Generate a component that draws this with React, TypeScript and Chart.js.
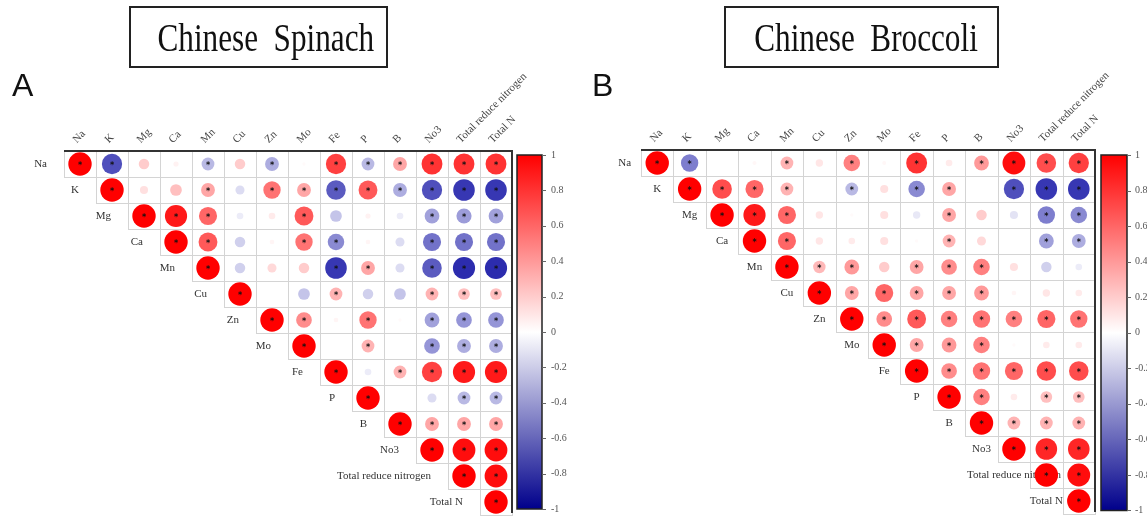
import React, { useEffect, useRef } from 'react';
import { Chart, registerables } from 'chart.js';

Chart.register(...registerables);

// ---------- data ----------
const variables = ['Na', 'K', 'Mg', 'Ca', 'Mn', 'Cu', 'Zn', 'Mo', 'Fe', 'P', 'B', 'No3', 'Total reduce nitrogen', 'Total N'];

// upper triangle, each row starts at the diagonal
const spinachCorr: number[][] = [
  [1, -0.75, 0.2, 0.05, -0.3, 0.2, -0.35, 0.02, 0.75, -0.3, 0.35, 0.8, 0.8, 0.8],
  [1, 0.12, 0.25, 0.35, -0.15, 0.55, 0.35, -0.7, 0.65, -0.35, -0.75, -0.85, -0.85],
  [1, 0.9, 0.6, -0.08, 0.08, 0.65, -0.25, 0.05, -0.08, -0.4, -0.42, -0.4],
  [1, 0.65, -0.2, 0.04, 0.55, -0.5, 0.04, -0.15, -0.6, -0.6, -0.6],
  [1, -0.2, 0.15, 0.2, -0.85, 0.35, -0.15, -0.7, -0.9, -0.9],
  [1, 0, -0.25, 0.3, -0.2, -0.25, 0.3, 0.25, 0.25],
  [1, 0.45, 0.04, 0.55, 0.02, -0.4, -0.45, -0.45],
  [1, 0, 0.3, 0, -0.45, -0.35, -0.35],
  [1, -0.08, 0.3, 0.75, 0.9, 0.9],
  [1, 0, -0.15, -0.3, -0.3],
  [1, 0.35, 0.35, 0.35],
  [1, 0.95, 0.95],
  [1, 0.95],
  [1],
];
const spinachSig: number[][] = [
  [1, 1, 0, 0, 1, 0, 1, 0, 1, 1, 1, 1, 1, 1],
  [1, 0, 0, 1, 0, 1, 1, 1, 1, 1, 1, 1, 1],
  [1, 1, 1, 0, 0, 1, 0, 0, 0, 1, 1, 1],
  [1, 1, 0, 0, 1, 1, 0, 0, 1, 1, 1],
  [1, 0, 0, 0, 1, 1, 0, 1, 1, 1],
  [1, 0, 0, 1, 0, 0, 1, 1, 1],
  [1, 1, 0, 1, 0, 1, 1, 1],
  [1, 0, 1, 0, 1, 1, 1],
  [1, 0, 1, 1, 1, 1],
  [1, 0, 0, 1, 1],
  [1, 1, 1, 1],
  [1, 1, 1],
  [1, 1],
  [1],
];

const broccoliCorr: number[][] = [
  [1, -0.55, 0, 0.03, 0.3, 0.1, 0.5, 0.03, 0.8, 0.08, 0.4, 0.95, 0.7, 0.75],
  [1, 0.7, 0.6, 0.3, 0, -0.3, 0.12, -0.5, 0.35, 0, -0.75, -0.85, -0.85],
  [1, 0.9, 0.6, 0.1, 0.02, 0.12, -0.1, 0.35, 0.2, -0.12, -0.55, -0.5],
  [1, 0.6, 0.1, 0.08, 0.12, 0.02, 0.3, 0.15, 0, -0.4, -0.35],
  [1, 0.28, 0.4, 0.2, 0.35, 0.45, 0.5, 0.12, -0.2, -0.08],
  [1, 0.35, 0.6, 0.35, 0.35, 0.4, 0.04, 0.1, 0.08],
  [1, 0.45, 0.65, 0.5, 0.55, 0.5, 0.6, 0.55],
  [1, 0.35, 0.4, 0.5, 0.02, 0.08, 0.08],
  [1, 0.45, 0.55, 0.6, 0.7, 0.7],
  [1, 0.5, 0.08, 0.25, 0.25],
  [1, 0.3, 0.3, 0.3],
  [1, 0.85, 0.85],
  [1, 0.95],
  [1],
];
const broccoliSig: number[][] = [
  [1, 1, 0, 0, 1, 0, 1, 0, 1, 0, 1, 1, 1, 1],
  [1, 1, 1, 1, 0, 1, 0, 1, 1, 0, 1, 1, 1],
  [1, 1, 1, 0, 0, 0, 0, 1, 0, 0, 1, 1],
  [1, 1, 0, 0, 0, 0, 1, 0, 0, 1, 1],
  [1, 1, 1, 0, 1, 1, 1, 0, 0, 0],
  [1, 1, 1, 1, 1, 1, 0, 0, 0],
  [1, 1, 1, 1, 1, 1, 1, 1],
  [1, 1, 1, 1, 0, 0, 0],
  [1, 1, 1, 1, 1, 1],
  [1, 1, 0, 1, 1],
  [1, 1, 1, 1],
  [1, 1, 1],
  [1, 1],
  [1],
];

const colorbarTicks = [1, 0.8, 0.6, 0.4, 0.2, 0, -0.2, -0.4, -0.6, -0.8, -1];
const colorbarLabels = ['1', '0.8', '0.6', '0.4', '0.2', '0', '-0.2', '-0.4', '-0.6', '-0.8', '-1'];

// ---------- helpers ----------
function mapColor(v: number, navy: number[]): string {
  const t = Math.min(1, Math.abs(v));
  if (v >= 0) {
    const g = Math.round(255 * (1 - t));
    return `rgb(255,${g},${g})`;
  }
  const r = Math.round(255 + (navy[0] - 255) * t);
  const b = Math.round(255 + (navy[2] - 255) * t);
  return `rgb(${r},${r},${b})`;
}
const barColor = (v: number) => mapColor(v, [0, 0, 139]);
const dotColor = (v: number) => mapColor(v, [20, 20, 165]);

type PanelCfg = {
  width: number;
  left: number;
  top: number;
  bottomPad: number;
  cbWidth: number;
  cbMin: number;
  cbMax: number;
  cbLabelPad: number;
  barOffset: number;
  barWidth: number;
  labelMode: 'right' | 'center';
};

const panelA: PanelCfg = {
  width: 573, left: 64, top: 151, bottomPad: 2, cbWidth: 61,
  cbMin: -1.034, cbMax: 1.0226, cbLabelPad: 39, barOffset: 5, barWidth: 25, labelMode: 'right',
};
const panelB: PanelCfg = {
  width: 574, left: 68, top: 150, bottomPad: 3, cbWidth: 52,
  cbMin: -1.0197, cbMax: 1.0281, cbLabelPad: 40, barOffset: 6, barWidth: 26, labelMode: 'center',
};

const corrPlugin = {
  id: 'corrDecor',
  beforeDatasetsDraw(chart: any, _args: any, opts: any) {
    const { ctx, chartArea } = chart;
    const xs = chart.scales.x;
    const ys = chart.scales.y;
    const n = variables.length;
    ctx.save();
    ctx.strokeStyle = '#d4d4d4';
    ctx.lineWidth = 1;
    for (let i = 0; i < n; i++) {
      for (let j = i; j < n; j++) {
        const x0 = Math.round(xs.getPixelForValue(j - 0.5)) + 0.5;
        const x1 = Math.round(xs.getPixelForValue(j + 0.5)) + 0.5;
        const y0 = Math.round(ys.getPixelForValue(i - 0.5)) + 0.5;
        const y1 = Math.round(ys.getPixelForValue(i + 0.5)) + 0.5;
        ctx.strokeRect(x0, y0, x1 - x0, y1 - y0);
      }
    }
    // row labels along the diagonal
    ctx.fillStyle = '#333';
    ctx.font = '11px "Liberation Serif"';
    ctx.textBaseline = 'middle';
    for (let i = 0; i < n; i++) {
      const y = ys.getPixelForValue(i);
      if (opts.labelMode === 'right') {
        ctx.textAlign = 'right';
        ctx.fillText(variables[i], xs.getPixelForValue(i - 0.5) - 17, y);
      } else {
        ctx.textAlign = 'center';
        ctx.fillText(variables[i], xs.getPixelForValue(i - 1), y);
      }
    }
    // dark frame top and right
    ctx.strokeStyle = '#333';
    ctx.lineWidth = 2;
    ctx.beginPath();
    ctx.moveTo(chartArea.left, chartArea.top);
    ctx.lineTo(chartArea.right, chartArea.top);
    ctx.lineTo(chartArea.right, chartArea.bottom - 2);
    ctx.stroke();
    ctx.restore();
  },
  afterDatasetsDraw(chart: any) {
    const { ctx } = chart;
    const meta = chart.getDatasetMeta(0);
    const data = chart.data.datasets[0].data;
    ctx.save();
    ctx.fillStyle = '#111';
    ctx.font = 'bold 8px "DejaVu Sans"';
    ctx.textAlign = 'center';
    ctx.textBaseline = 'middle';
    meta.data.forEach((el: any, k: number) => {
      if (data[k].sig) ctx.fillText('*', el.x, el.y + 1.5);
    });
    ctx.restore();
  },
  afterDraw(chart: any, _args: any, opts: any) {
    const { ctx } = chart;
    const cb = chart.scales.cb;
    const x0 = cb.left + opts.barOffset;
    const top = cb.getPixelForValue(1);
    const bottom = cb.getPixelForValue(-1);
    ctx.save();
    const g = ctx.createLinearGradient(0, top, 0, bottom);
    g.addColorStop(0, barColor(1));
    g.addColorStop(0.5, barColor(0));
    g.addColorStop(1, barColor(-1));
    ctx.fillStyle = g;
    ctx.fillRect(x0, top, opts.barWidth, bottom - top);
    ctx.strokeStyle = '#222';
    ctx.lineWidth = 1.5;
    ctx.strokeRect(x0, top, opts.barWidth, bottom - top);
    ctx.strokeStyle = '#666';
    ctx.lineWidth = 1;
    colorbarTicks.forEach((v) => {
      const y = Math.round(cb.getPixelForValue(v)) + 0.5;
      ctx.beginPath();
      ctx.moveTo(x0 + opts.barWidth, y);
      ctx.lineTo(x0 + opts.barWidth + 4, y);
      ctx.stroke();
    });
    ctx.restore();
  },
};

function makeChart(canvas: HTMLCanvasElement, corr: number[][], sig: number[][], cfg: PanelCfg) {
  const n = variables.length;
  const points: any[] = [];
  corr.forEach((row, i) => {
    row.forEach((v, k) => {
      points.push({ x: i + k, y: i, v, sig: sig[i][k] === 1 });
    });
  });
  return new Chart(canvas, {
    type: 'scatter',
    data: {
      datasets: [
        {
          data: points,
          pointBackgroundColor: (c: any) => dotColor(c.raw ? c.raw.v : 0),
          pointBorderWidth: 0,
          pointRadius: (c: any) => {
            const ys = c.chart.scales.y;
            const cell = Math.abs(ys.getPixelForValue(1) - ys.getPixelForValue(0));
            return 0.45 * cell * Math.sqrt(Math.abs(c.raw ? c.raw.v : 0));
          },
          pointHoverRadius: 0,
        } as any,
      ],
    },
    options: {
      animation: false,
      responsive: false,
      devicePixelRatio: 1,
      events: [],
      layout: { padding: { left: cfg.left, right: 0, top: 0, bottom: cfg.bottomPad } },
      plugins: {
        legend: { display: false },
        tooltip: { enabled: false },
        corrDecor: { labelMode: cfg.labelMode, barOffset: cfg.barOffset, barWidth: cfg.barWidth },
      } as any,
      scales: {
        x: {
          type: 'linear',
          position: 'top',
          min: -0.5,
          max: n - 0.5,
          afterBuildTicks: (s: any) => {
            s.ticks = variables.map((_, i) => ({ value: i }));
          },
          afterFit: (s: any) => {
            s.height = cfg.top;
          },
          grid: { display: false, drawTicks: false },
          border: { display: false },
          ticks: {
            autoSkip: false,
            minRotation: 45,
            maxRotation: 45,
            padding: 5,
            labelOffset: 4,
            color: '#444',
            font: { family: 'Liberation Serif', size: 11 },
            callback: (v: any) => variables[v as number],
          },
        },
        y: { type: 'linear', display: false, reverse: true, min: -0.5, max: n - 0.5 },
        cb: {
          type: 'linear',
          position: 'right',
          min: cfg.cbMin,
          max: cfg.cbMax,
          afterBuildTicks: (s: any) => {
            s.ticks = colorbarTicks.map((v) => ({ value: v }));
          },
          afterFit: (s: any) => {
            s.width = cfg.cbWidth;
            s.paddingTop = 0;
            s.paddingBottom = 0;
          },
          grid: { display: false, drawTicks: false },
          border: { display: false },
          ticks: {
            padding: cfg.cbLabelPad,
            color: '#555',
            font: { family: 'Liberation Serif', size: 10 },
            callback: (_v: any, i: number) => colorbarLabels[i],
          },
        },
      } as any,
    },
    plugins: [corrPlugin],
  } as any);
}

const titleTextStyle: React.CSSProperties = {
  position: 'absolute',
  top: 18,
  fontFamily: '"Liberation Serif", serif',
  fontSize: 40,
  lineHeight: '40px',
  textAlign: 'center',
  whiteSpace: 'pre',
  color: '#111',
  transform: 'scaleX(0.78)',
};

const letterStyle: React.CSSProperties = {
  position: 'absolute',
  top: 69,
  fontFamily: '"Liberation Sans", sans-serif',
  fontSize: 32,
  lineHeight: '32px',
  color: '#111',
};

export default function App() {
  const refA = useRef<HTMLCanvasElement>(null);
  const refB = useRef<HTMLCanvasElement>(null);
  useEffect(() => {
    const a = makeChart(refA.current!, spinachCorr, spinachSig, panelA);
    const b = makeChart(refB.current!, broccoliCorr, broccoliSig, panelB);
    return () => {
      a.destroy();
      b.destroy();
    };
  }, []);
  return (
    <div style={{ position: 'absolute', left: 0, top: 0, width: 1147, height: 517, background: '#fff', overflow: 'hidden' }}>
      <canvas ref={refA} width={panelA.width} height={517} style={{ position: 'absolute', left: 0, top: 0 }} />
      <canvas ref={refB} width={panelB.width} height={517} style={{ position: 'absolute', left: 573, top: 0 }} />
      <div style={{ position: 'absolute', left: 129, top: 6, width: 259, height: 62, border: '2px solid #222', boxSizing: 'border-box' }} />
      <div style={{ ...titleTextStyle, left: 129, width: 259 }}>{'Chinese  Spinach'}</div>
      <div style={{ position: 'absolute', left: 724, top: 6, width: 275, height: 62, border: '2px solid #222', boxSizing: 'border-box' }} />
      <div style={{ ...titleTextStyle, left: 724, width: 275 }}>{'Chinese  Broccoli'}</div>
      <div style={{ ...letterStyle, left: 12 }}>A</div>
      <div style={{ ...letterStyle, left: 592 }}>B</div>
    </div>
  );
}
